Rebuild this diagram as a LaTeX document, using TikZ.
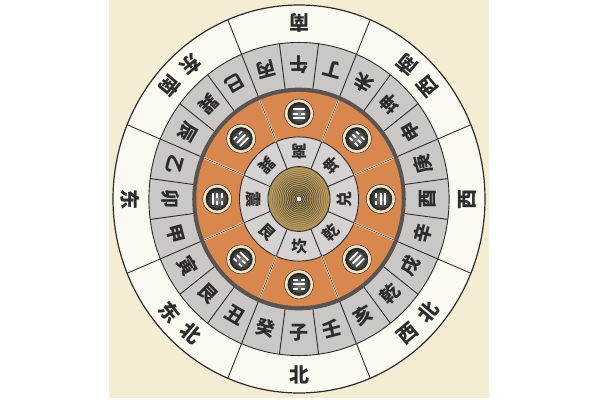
\documentclass[tikz,border=0pt]{standalone}
\usepackage{fontspec}
\newfontfamily\cjk{Noto Sans CJK SC}
\usepackage{xcolor}
\usepackage{tikz}

\definecolor{paper}{HTML}{F4EDD4}
\definecolor{ringwhite}{HTML}{FBF9F2}
\definecolor{stone}{HTML}{CBC7C6}
\definecolor{ochre}{HTML}{D8874E}
\definecolor{ink}{HTML}{2E2B2A}
\definecolor{band}{HTML}{5A5450}
\definecolor{gold}{HTML}{C9A862}
\definecolor{cream}{HTML}{F2E2C0}

\begin{document}
\begin{tikzpicture}[
    x=1pt, y=1pt,
    ring/.style={draw=ink, line width=0.9pt},
    mountain/.style={font=\cjk\bfseries\fontsize{19}{19}\selectfont, text=ink, inner sep=0pt},
    dirlabel/.style={font=\cjk\bfseries\fontsize{20}{20}\selectfont, text=ink, inner sep=0pt},
    guaname/.style={font=\cjk\bfseries\fontsize{16}{16}\selectfont, text=ink, inner sep=0pt},
    trigram/.style={circle, draw=ink, line width=0.5pt, fill=cream, minimum size=29pt, inner sep=0pt},
    yao/.style={draw=white, line width=1.8pt}
]
    \useasboundingbox (0,0) rectangle (600,400);
    \fill[white] (0,0) rectangle (600,400);
    \fill[paper] (109,2) rectangle (489,400);

    \begin{scope}[shift={(299,201)}, scale=186, yscale=1.043]
        % Rings
        \fill[ringwhite] (0,0) circle (1);
        \draw[ink, line width=1.2pt] (0,0) circle (1);
        \fill[stone] (0,0) circle (0.807);
        \draw[ring] (0,0) circle (0.807);
        \fill[band] (0,0) circle (0.574);
        \fill[ochre] (0,0) circle (0.552);
        \fill[stone!80!white] (0,0) circle (0.32);
        \draw[ring] (0,0) circle (0.32);

        % Dividers
        \foreach \a in {22.5,67.5,...,337.5} {
            \draw[ring] (\a:0.807) -- (\a:1);
            \draw[cream, line width=1.8pt] (\a:0.32) -- (\a:0.552);
            \draw[ink, line width=0.5pt] (\a:0.32) -- (\a:0.552);
            \draw[ring] (\a:0.167) -- (\a:0.32);
        }
        \foreach \a in {7.5,22.5,...,352.5}
            \draw[ring] (\a:0.574) -- (\a:0.807);

        % Centre
        \fill[gold] (0,0) circle (0.167);
        \foreach \k in {0,...,16} {
            \pgfmathsetmacro\r{0.162-0.0092*\k}
            \pgfmathtruncatemacro\m{25+4*\k}
            \draw[ink!\m!gold, line width=1pt] (0,0) circle (\r);
        }
        \draw[ring] (0,0) circle (0.167);
        \fill[white] (0,0) circle (0.012);

        % Directions
        \foreach \a/\t [count=\i] in {270/北, 180/东, 90/南, 0/西}
            \node[dirlabel, rotate=\a+90] (d\i) at (\a:0.905) {\t};
        \foreach \a/\ta/\tb [count=\i] in {225/东/北, 135/东/南, 45/西/南, 315/西/北} {
            \node[dirlabel, rotate=\a+85] (e\i-1) at (\a-5:0.905) {\ta};
            \node[dirlabel, rotate=\a+95] (e\i-2) at (\a+5:0.905) {\tb};
        }

        % Twenty-four mountains
        \foreach \t [count=\i] in {子,癸,丑,艮,寅,甲,卯,乙,辰,巽,巳,丙,午,丁,未,坤,申,庚,酉,辛,戌,乾,亥,壬} {
            \pgfmathsetmacro\a{285-15*\i}
            \node[mountain, rotate=\a+90] (m\i) at (\a:0.69) {\t};
        }

        % Trigram names and coins
        \foreach \t [count=\i] in {坎,艮,震,巽,离,坤,兑,乾} {
            \pgfmathsetmacro\a{315-45*\i}
            \node[guaname, rotate=\a+90] (g\i) at (\a:0.245) {\t};
            \node[trigram] (t\i) at (\a:0.44) {};
        }
    \end{scope}

    % Trigram lines
    \foreach \a/\ya/\yb/\yc [count=\i] in {270/0/1/0, 225/0/0/1, 180/1/0/0, 135/0/1/1,
                                           90/1/0/1, 45/0/0/0, 0/1/1/0, 315/1/1/1} {
        \shade[inner color=black!45, outer color=black!88] (t\i.center) circle (11.5pt);
        \begin{scope}[shift={(t\i.center)}, rotate=\a+90]
            \foreach \y/\s in {-4.5/\ya, 0/\yb, 4.5/\yc} {
                \ifnum\s=1 \draw[yao] (-6,\y) -- (6,\y);
                \else \draw[yao] (-6,\y) -- (-1.5,\y) (1.5,\y) -- (6,\y); \fi
            }
        \end{scope}
    }
\end{tikzpicture}
\end{document}
